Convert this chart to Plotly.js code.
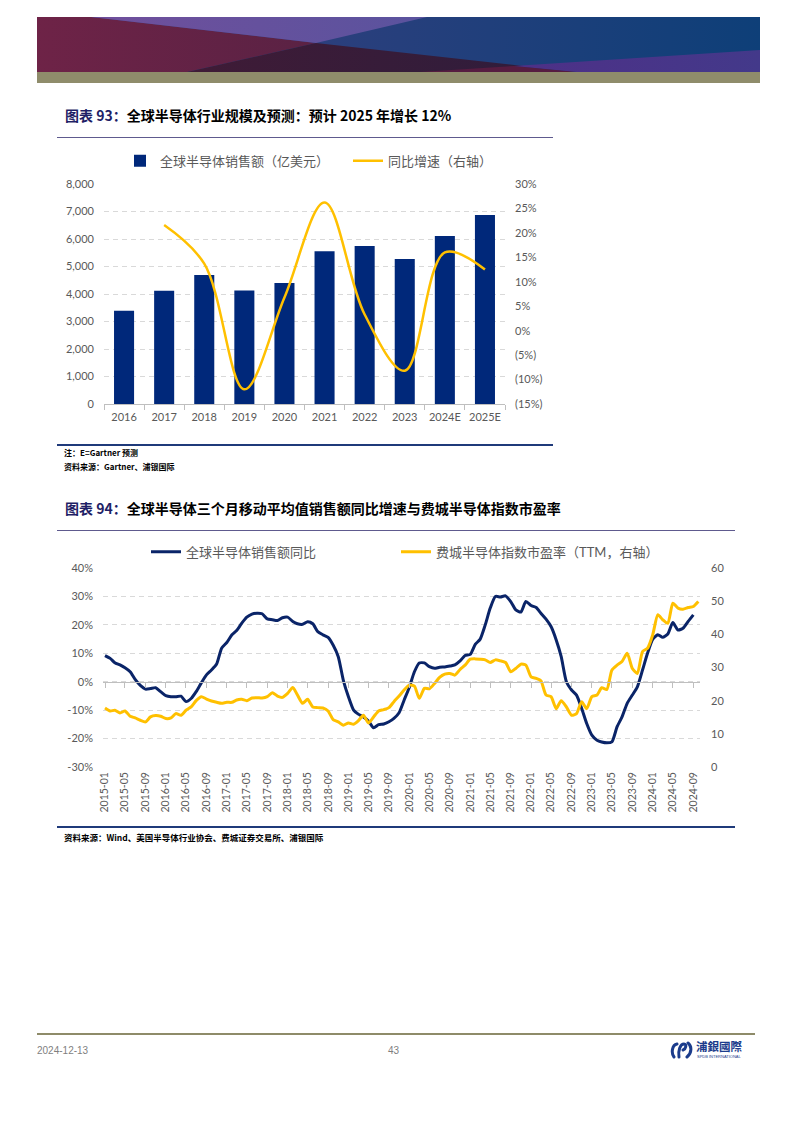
<!DOCTYPE html>
<html><head><meta charset="utf-8">
<script src="https://cdn.plot.ly/plotly-3.0.1.min.js"></script>
<style>
html,body{margin:0;padding:0;background:#fff}
body{width:793px;height:1122px;position:relative;overflow:hidden;font-family:"Noto Sans CJK SC",sans-serif}
.abs{position:absolute}
.ttl{font-size:14px;font-weight:700;color:#000;white-space:nowrap;line-height:16px}
.ttl .no{color:#1F1F66}
.hl{height:1px;background:#5E5A8E}
.bl{height:1.5px;background:#1F3A7A}
.note{font-size:8px;font-weight:700;color:#000;white-space:nowrap;line-height:10px}
.foot{font-family:"Liberation Sans",Arial,sans-serif;font-size:10px;color:#7F7F7F;line-height:12px}
</style></head>
<body>
<!-- banner -->
<svg class="abs" style="left:37px;top:17px" width="723" height="55" viewBox="0 0 723 55">
<defs>
<linearGradient id="gBlue" x1="0" x2="1" y1="0" y2="0"><stop offset="0" stop-color="#3E3F80"/><stop offset="1" stop-color="#0E3F78"/></linearGradient>
<linearGradient id="gMar" x1="0" x2="1" y1="0" y2="0"><stop offset="0" stop-color="#6E2347"/><stop offset="1" stop-color="#5A2244"/></linearGradient>
<linearGradient id="gLav" x1="0" x2="1" y1="0" y2="0"><stop offset="0" stop-color="#704F9C"/><stop offset="1" stop-color="#5A539E"/></linearGradient>
<linearGradient id="gDark" x1="0" x2="1" y1="0" y2="0"><stop offset="0" stop-color="#3F1B36"/><stop offset="1" stop-color="#2E1D3C"/></linearGradient>
<linearGradient id="gPur" x1="0" x2="1" y1="0" y2="0"><stop offset="0" stop-color="#4E3087"/><stop offset="1" stop-color="#43398A"/></linearGradient>
</defs>
<rect x="0" y="0" width="723" height="55" fill="url(#gBlue)"/>
<polygon points="0,0 54,0 279,26 150,55 0,55" fill="url(#gMar)"/>
<polygon points="54,0 390,0 279,26" fill="url(#gLav)"/>
<polygon points="150,55 279,26 540,55" fill="url(#gDark)"/>
<polygon points="383,55 477,48.9 540,55" fill="#561C40"/>
<polygon points="477,48.9 723,33 723,55 540,55" fill="url(#gPur)"/>
</svg>
<div class="abs" style="left:37px;top:72px;width:723px;height:11px;background:#8F8C6B"></div>

<!-- chart 1 heading -->
<div class="abs ttl" style="left:65px;top:107px"><span class="no">图表 93：</span>全球半导体行业规模及预测：预计 2025 年增长 12%</div>
<div class="abs hl" style="left:57px;top:137px;width:496px"></div>
<div id="c1" class="abs" style="left:0;top:140px;width:793px;height:300px"></div>
<div class="abs bl" style="left:57px;top:444px;width:496px"></div>
<div class="abs note" style="left:64px;top:448px">注：E=Gartner 预测</div>
<div class="abs note" style="left:64px;top:462px">资料来源：Gartner、浦银国际</div>

<!-- chart 2 heading -->
<div class="abs ttl" style="left:65px;top:500px"><span class="no">图表 94：</span>全球半导体三个月移动平均值销售额同比增速与费城半导体指数市盈率</div>
<div class="abs hl" style="left:57px;top:530px;width:678px"></div>
<div id="c2" class="abs" style="left:0;top:530px;width:793px;height:297px"></div>
<div class="abs bl" style="left:57px;top:826px;width:678px"></div>
<div class="abs note" style="left:64px;top:832px;font-size:8.5px">资料来源：Wind、美国半导体行业协会、费城证券交易所、浦银国际</div>

<!-- footer -->
<div class="abs" style="left:37px;top:1033px;width:718px;height:1.5px;background:#8E8B69"></div>
<div class="abs foot" style="left:37px;top:1045px">2024-12-13</div>
<div class="abs foot" style="left:388px;top:1045px">43</div>
<svg class="abs" style="left:670px;top:1041px" width="24" height="18" viewBox="0 0 24 18">
<path d="M7 3 C2 4,1 12,4 16" stroke="#1B3C8C" stroke-width="3" fill="none" stroke-linecap="round"/>
<path d="M9 16 C8 10,10 3,14 3 C17 3,16 8,13 9" stroke="#1B3C8C" stroke-width="3" fill="none" stroke-linecap="round"/>
<path d="M18 2 C22 5,22 12,17 16" stroke="#1B3C8C" stroke-width="3" fill="none" stroke-linecap="round"/>
</svg>
<div class="abs" style="left:696px;top:1040px;font-size:11.5px;font-weight:700;color:#1B3C8C;line-height:13px;font-family:'Noto Sans CJK TC',sans-serif">浦銀國際</div>
<div class="abs" style="left:697px;top:1054px;font-size:4px;color:#1B3C8C;line-height:5px;font-family:'Liberation Sans',sans-serif">SPDB INTERNATIONAL</div>

<script>
// ---------- Chart 1 data ----------
var years = ['2016','2017','2018','2019','2020','2021','2022','2023','2024E','2025E'];
var salesBn = [3389, 4122, 4688, 4123, 4404, 5559, 5741, 5270, 6112, 6873];
var growthPct = [null, 21.6, 13.7, -12.0, 6.8, 26.2, 3.3, -8.2, 16.0, 12.5];
var rightTickVals = [-15, -10, -5, 0, 5, 10, 15, 20, 25, 30];
var rightTickText = ['(15%)','(10%)','(5%)','0%','5%','10%','15%','20%','25%','30%'];

// ---------- Chart 2 data ----------
var startYear = 2015, monthCount = 118;
var months = [];
for (var i = 0; i < monthCount; i++) {
  var y = startYear + Math.floor(i / 12), m = (i % 12) + 1;
  months.push(y + '-' + (m < 10 ? '0' + m : m) + '-01');
}
var salesYoY = [
 9.2, 8.2, 6.7, 5.9, 4.9, 3.5, 0.8, -1.3, -2.6, -2.4,
 -2.1, -3.5, -4.9, -5.3, -5.3, -5.1, -7.0, -5.9, -3.5, -0.4,
 2.4, 4.1, 6.2, 11.8, 13.8, 16.5, 18.0, 20.6, 22.7, 23.8,
 24.1, 23.9, 22.1, 21.8, 21.5, 22.5, 22.7, 21.2, 20.4, 20.2,
 21.1, 20.4, 17.6, 16.5, 15.6, 12.9, 8.8, 0.6, -5.3, -10.0,
 -11.4, -12.4, -13.8, -16.2, -15.1, -14.9, -14.1, -12.9, -10.9, -6.5,
 -2.0, 3.5, 6.6, 6.6, 5.3, 4.7, 5.1, 5.2, 5.5, 5.9,
 7.3, 9.2, 9.6, 13.2, 14.9, 20.0, 25.9, 30.0, 29.8, 30.2,
 28.2, 25.3, 24.5, 28.2, 26.8, 26.1, 24.1, 22.0, 19.4, 14.7,
 8.8, 0.0, -2.9, -4.7, -9.4, -14.7, -18.8, -20.6, -21.2, -21.5,
 -21.2, -15.9, -12.4, -7.6, -4.7, -1.8, 4.1, 10.0, 14.9, 16.5,
 15.6, 16.8, 20.8, 18.2, 18.8, 21.2, 23.5
];
var soxPE = [
 17.8, 16.9, 17.1, 16.3, 16.9, 15.3, 14.8, 14.1, 13.6, 15.1,
 15.5, 15.3, 14.6, 14.8, 16.1, 15.6, 17.1, 18.1, 20.0, 21.2,
 20.5, 19.9, 19.5, 19.2, 19.5, 19.5, 20.2, 20.4, 20.0, 20.8,
 20.9, 20.8, 21.2, 22.4, 21.4, 21.0, 22.2, 24.0, 21.7, 19.2,
 20.4, 18.1, 17.9, 17.8, 16.9, 14.3, 13.6, 12.6, 13.3, 12.9,
 13.9, 15.6, 13.3, 15.1, 16.9, 17.3, 17.9, 19.7, 21.4, 23.2,
 24.7, 24.4, 20.7, 23.7, 23.6, 25.2, 27.0, 28.0, 28.2, 27.7,
 29.4, 30.7, 32.5, 32.6, 32.5, 32.3, 31.5, 32.3, 32.0, 31.5,
 28.7, 29.7, 31.0, 30.7, 27.2, 26.7, 26.0, 21.7, 21.2, 17.6,
 20.0, 18.1, 15.6, 16.1, 19.7, 17.6, 21.2, 21.7, 23.9, 23.4,
 29.2, 30.7, 31.8, 34.3, 29.7, 28.2, 34.8, 35.8, 39.8, 45.9,
 44.4, 43.3, 49.4, 47.9, 47.6, 48.1, 48.4, 49.9
];
var leftTickVals2 = [-30, -20, -10, 0, 10, 20, 30, 40];
var leftTickText2 = ['-30%','-20%','-10%','0%','10%','20%','30%','40%'];

var FONT = 'Lato, "Noto Sans CJK SC", sans-serif';
var GRID = '#D9D9D9', AXIS = '#BFBFBF', TXT = '#595959';
var NAVY = '#00287A', GOLD = '#FFC000', NAVY2 = '#0A2468';
var cfg = {displayModeBar:false, staticPlot:true};

// ---------- Chart 1 ----------
Plotly.newPlot('c1', [
  {type:'bar', name:'全球半导体销售额（亿美元）', x:years, y:salesBn, marker:{color:NAVY}, legend:'legend'},
  {type:'scatter', mode:'lines', name:'同比增速（右轴）', x:years, y:growthPct, yaxis:'y2', legend:'legend2',
   line:{color:GOLD, width:2.5, shape:'spline', smoothing:1}, connectgaps:false}
], {
  width:793, height:300,
  margin:{l:104, r:288, t:44, b:36, pad:0, autoexpand:false},
  paper_bgcolor:'rgba(0,0,0,0)', plot_bgcolor:'rgba(0,0,0,0)',
  font:{family:FONT, size:11, color:TXT},
  bargap:0.5,
  showlegend:true,
  legend:{orientation:'h', xref:'container', x:120/793, xanchor:'left', y:1.106, yanchor:'middle',
          font:{size:13, color:TXT}, itemwidth:30},
  legend2:{orientation:'h', xref:'container', x:348/793, xanchor:'left', y:1.106, yanchor:'middle',
          font:{size:13, color:TXT}, itemwidth:30},
  xaxis:{type:'category', showline:true, linecolor:AXIS, linewidth:1, ticks:'outside', tickangle:0,
         tickson:'boundaries', ticklen:5, tickcolor:AXIS, showgrid:false, ticklabelstandoff:3},
  yaxis:{range:[0,8000], tickvals:[0,1000,2000,3000,4000,5000,6000,7000,8000], tickformat:',d',
         showgrid:true, gridcolor:GRID, griddash:'5px,4px', zeroline:false, ticks:'', ticklabelstandoff:9},
  yaxis2:{overlaying:'y', side:'right', range:[-15,30], tickvals:rightTickVals, ticktext:rightTickText,
          showgrid:false, zeroline:false, ticks:'', ticklabelstandoff:9}
}, cfg);

// ---------- Chart 2 ----------
var xr = ['2014-12-20','2024-10-11'];
Plotly.newPlot('c2', [
  {type:'scatter', mode:'lines', name:'全球半导体销售额同比', x:months.slice(0, salesYoY.length), y:salesYoY,
   line:{color:NAVY2, width:3, shape:'spline', smoothing:0.6}, legend:'legend'},
  {type:'scatter', mode:'lines', name:'费城半导体指数市盈率（TTM，右轴）', x:months, y:soxPE, yaxis:'y2',
   line:{color:GOLD, width:3, shape:'spline', smoothing:0.6}, legend:'legend2'},
  {type:'scatter', mode:'lines', x:months.slice(0, salesYoY.length), y:salesYoY, xaxis:'x2', yaxis:'y',
   line:{width:0, color:'rgba(0,0,0,0)'}, showlegend:false, hoverinfo:'skip'}
], {
  width:793, height:297,
  margin:{l:103, r:93, t:38, b:60, pad:0, autoexpand:false},
  paper_bgcolor:'rgba(0,0,0,0)', plot_bgcolor:'rgba(0,0,0,0)',
  font:{family:FONT, size:11, color:TXT},
  showlegend:true,
  legend:{orientation:'h', xref:'container', x:146/793, xanchor:'left', y:1.082, yanchor:'middle',
          font:{size:13, color:TXT}, itemwidth:30},
  legend2:{orientation:'h', xref:'container', x:396/793, xanchor:'left', y:1.082, yanchor:'middle',
          font:{size:13, color:TXT}, itemwidth:30},
  xaxis:{type:'date', range:xr, tick0:'2015-01-01', dtick:'M4', tickformat:'%Y-%m', tickangle:-90,
         showgrid:false, showline:false, zeroline:false, ticks:'', tickfont:{size:10.5}, ticklabelstandoff:2},
  xaxis2:{type:'date', overlaying:'x', anchor:'free', position:3/7, range:xr, tick0:'2015-01-01', dtick:'M4',
          showticklabels:false, ticks:'outside', ticklen:5, tickcolor:AXIS, showline:true, linecolor:AXIS,
          showgrid:false, zeroline:false},
  yaxis:{range:[-30,40], tickvals:leftTickVals2, ticktext:leftTickText2, showgrid:true, gridcolor:GRID,
         griddash:'5px,4px', zeroline:false, ticks:'', ticklabelstandoff:9},
  yaxis2:{overlaying:'y', side:'right', range:[0,60], tickvals:[0,10,20,30,40,50,60],
          showgrid:false, zeroline:false, ticks:'', ticklabelstandoff:10}
}, cfg);
</script>
</body></html>
